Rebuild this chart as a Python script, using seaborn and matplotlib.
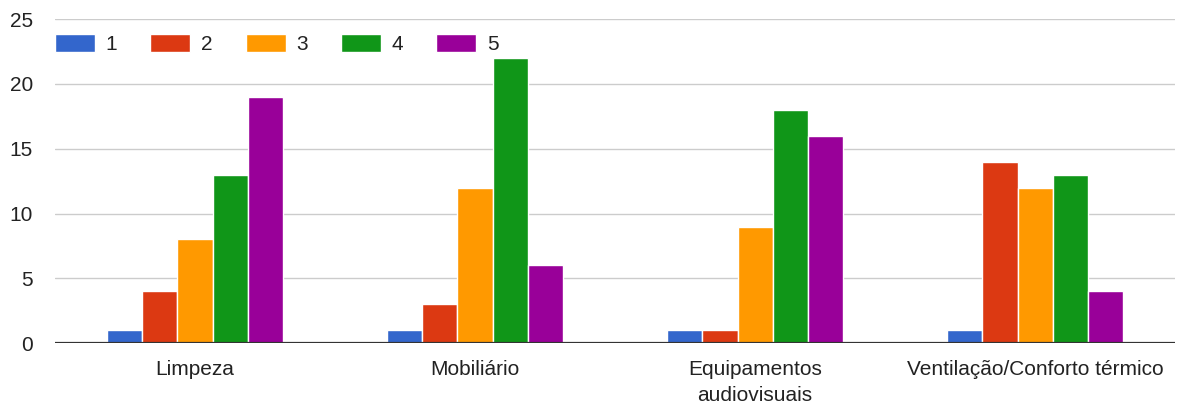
import pandas as pd
import matplotlib.pyplot as plt
import seaborn as sns

categories = ["Limpeza", "Mobiliário", "Equipamentos\naudiovisuais", "Ventilação/Conforto térmico"]
ratings = ["1", "2", "3", "4", "5"]
counts_1 = [1, 1, 1, 1]
counts_2 = [4, 3, 1, 14]
counts_3 = [8, 12, 9, 12]
counts_4 = [13, 22, 18, 13]
counts_5 = [19, 6, 16, 4]
colors = ["#3366cc", "#dc3912", "#ff9900", "#109618", "#990099"]

rows = []
for r, vals in zip(ratings, [counts_1, counts_2, counts_3, counts_4, counts_5]):
    for c, v in zip(categories, vals):
        rows.append({"categoria": c, "nota": r, "valor": v})
df = pd.DataFrame(rows)

sns.set_style("white")
plt.rcParams["font.family"] = ["Liberation Sans", "DejaVu Sans"]

fig = plt.figure(figsize=(11.78, 4.08), dpi=100)
ax = fig.add_axes([0.0467, 0.159, 0.951, 0.794])

sns.barplot(data=df, x="categoria", y="valor", hue="nota", order=categories,
            hue_order=ratings, palette=colors, width=0.63, edgecolor="white",
            linewidth=1, saturation=1, ax=ax)

ax.set_ylim(0, 25)
ax.set_xlim(-0.5, 3.5)
ax.set_yticks([0, 5, 10, 15, 20, 25])
ax.yaxis.grid(True, color="#cccccc", linewidth=1)
ax.set_axisbelow(True)
ax.axhline(0, color="#333333", linewidth=1.6, zorder=5)
for s in ax.spines.values():
    s.set_visible(False)
ax.set_xlabel("")
ax.set_ylabel("")
ax.tick_params(axis="x", length=0, labelsize=15, colors="#222222", pad=12)
ax.tick_params(axis="y", length=0, labelsize=15, colors="#222222", pad=16)
ax.set_xticks(range(len(categories)))
ax.set_xticklabels(categories, linespacing=1.45)

ax.legend(loc="upper left", bbox_to_anchor=(0.0, 0.955), ncol=5, frameon=False,
          fontsize=15, handlelength=1.92, handleheight=1.0, columnspacing=1.6,
          handletextpad=0.5, borderaxespad=0.0, borderpad=0.0, labelcolor="#222222")

fig.savefig("out.png", dpi=100)
